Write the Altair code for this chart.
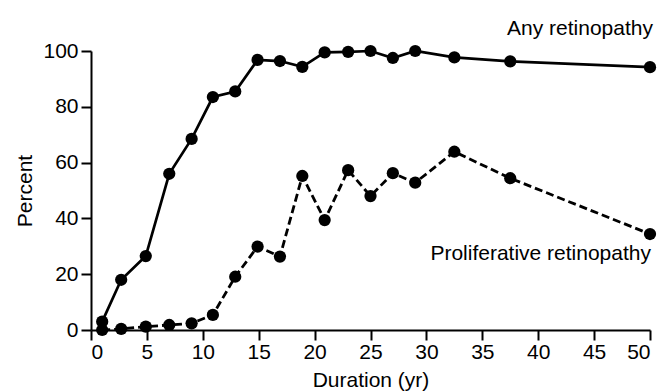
import altair as alt
import pandas as pd

# Duration of diabetes (years) and prevalence (%) of retinopathy
duration = [1, 2.7, 4.9, 7, 9, 10.9, 12.9, 14.9, 16.9, 18.9, 20.9, 23, 25, 27, 29, 32.5, 37.5, 50]
any_retinopathy = [3, 18, 26.5, 56, 68.5, 83.5, 85.5, 96.8, 96.4, 94.3, 99.5, 99.7, 100, 97.5, 100, 97.7, 96.3, 94.2]
proliferative = [0, 0.4, 1.2, 1.8, 2.4, 5.4, 19.1, 29.9, 26.3, 55.2, 39.4, 57.3, 48, 56.2, 52.8, 63.9, 54.4, 34.4]

series_names = ["Any retinopathy", "Proliferative retinopathy"]

df_any = pd.DataFrame({"Duration": duration, "Percent": any_retinopathy})
df_pro = pd.DataFrame({"Duration": duration, "Percent": proliferative})

FONT = "Liberation Sans"
FS = 21

x = alt.X(
    "Duration:Q",
    scale=alt.Scale(domain=[0, 50], nice=False, zero=True),
    axis=alt.Axis(
        title="Duration (yr)",
        values=list(range(0, 51, 5)),
        grid=False,
    ),
)
y = alt.Y(
    "Percent:Q",
    scale=alt.Scale(domain=[0, 100], nice=False),
    axis=alt.Axis(
        title="Percent",
        values=list(range(0, 101, 20)),
        grid=False,
    ),
)

line_any = alt.Chart(df_any).mark_line(color="black", strokeWidth=2.7).encode(x=x, y=y)
pts_any = alt.Chart(df_any).mark_circle(color="black", size=150, opacity=1).encode(x=x, y=y)

line_pro = alt.Chart(df_pro).mark_line(
    color="black", strokeWidth=2.8, strokeDash=[8, 4]
).encode(x=x, y=y)
pts_pro = alt.Chart(df_pro).mark_circle(color="black", size=150, opacity=1).encode(x=x, y=y)

# Series labels anchored to each series' final point
lab_any = alt.Chart(df_any.tail(1).assign(label=series_names[0])).mark_text(
    align="right", baseline="alphabetic", dx=3, dy=-32, fontSize=FS, font=FONT, color="black"
).encode(x=x, y=y, text="label:N")
lab_pro = alt.Chart(df_pro.tail(1).assign(label=series_names[1])).mark_text(
    align="right", baseline="alphabetic", dx=1, dy=26, fontSize=FS, font=FONT, color="black"
).encode(x=x, y=y, text="label:N")

chart = (
    alt.layer(line_any, line_pro, pts_any, pts_pro, lab_any, lab_pro)
    .properties(
        width=559,
        height=279,
        autosize="none",
        padding={"left": 91, "top": 51, "right": 13, "bottom": 62},
        background="white",
    )
    .configure_view(stroke=None)
    .configure_axis(
        domainColor="black",
        domainWidth=2,
        tickColor="black",
        tickWidth=2,
        tickSize=10,
        labelFont=FONT,
        labelFontSize=FS,
        labelColor="black",
        titleFont=FONT,
        titleFontSize=FS,
        titleFontWeight="normal",
        titleColor="black",
    )
    .configure_axisX(labelPadding=1, titlePadding=7)
    .configure_axisY(labelPadding=3, titlePadding=7)
)

chart.save("out.html", embed_options={"renderer": "svg", "actions": False})
